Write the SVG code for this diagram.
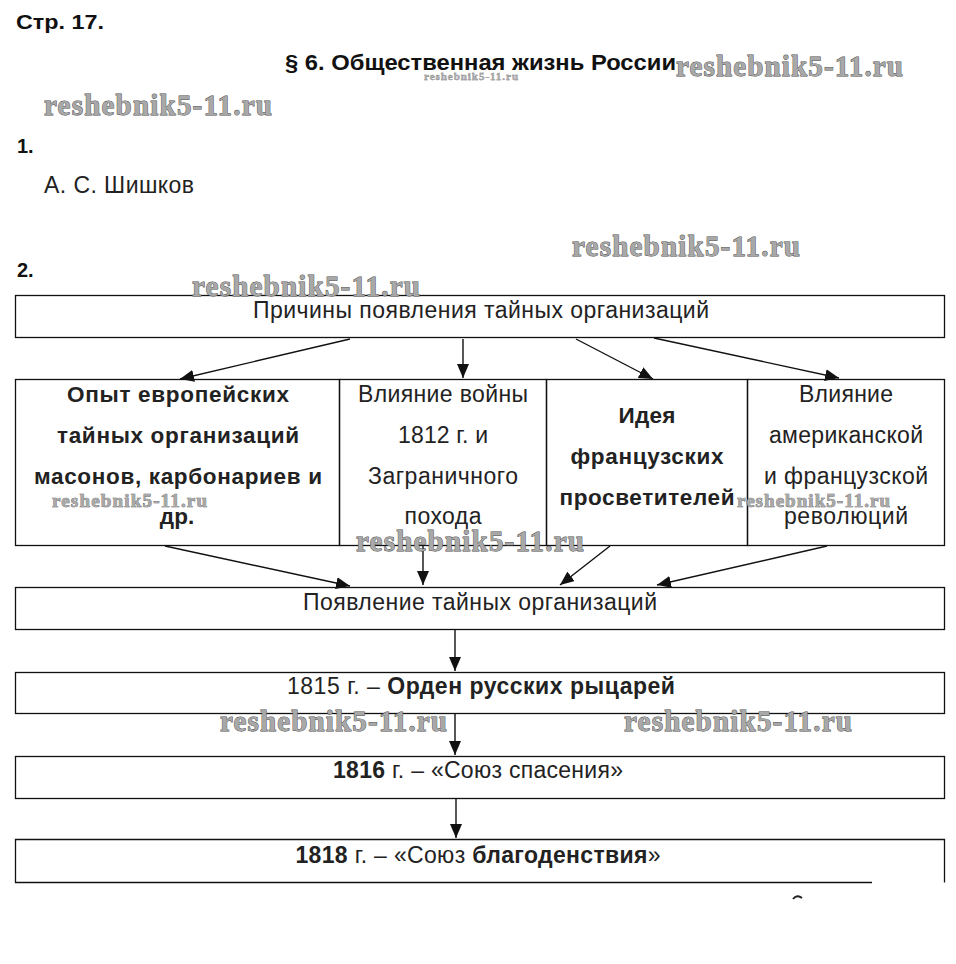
<svg xmlns="http://www.w3.org/2000/svg" width="956" height="964" viewBox="0 0 956 964">
<defs>
<style>
.bg{fill:#fff}
.box{fill:none;stroke:#111;stroke-width:1.3}
.t{font-family:"Liberation Sans",Arial,sans-serif;fill:#222;font-size:23px}
.tb{font-family:"Liberation Sans",Arial,sans-serif;fill:#222;font-size:22.5px;font-weight:bold}
.b{font-weight:bold}
.h{font-family:"Liberation Sans",Arial,sans-serif;fill:#111;font-weight:bold}
.wm{font-family:"Liberation Serif","Times New Roman",serif;font-weight:bold;fill:#a8a8a8;stroke:#4a4a4a;stroke-width:0.9;paint-order:stroke}
.edge{stroke:#111;stroke-width:1.4;fill:none;marker-end:url(#ah)}
</style>
<marker id="ah" markerUnits="userSpaceOnUse" markerWidth="15" markerHeight="12" refX="14" refY="6" orient="auto">
<path d="M0,0 L14,6 L0,12 z" fill="#111"/>
</marker>
</defs>
<rect class="bg" x="0" y="0" width="956" height="964"/>

<g id="header">
<text class="h" x="16" y="29" font-size="21" textLength="88" lengthAdjust="spacingAndGlyphs">Стр. 17.</text>
<text class="h" x="285" y="70" font-size="22" textLength="391" lengthAdjust="spacingAndGlyphs">§ 6. Общественная жизнь России</text>
<text class="h" x="17" y="153" font-size="20">1.</text>
<text class="t" x="44" y="193" font-size="21" textLength="150">А. С. Шишков</text>
<text class="h" x="17" y="277" font-size="20">2.</text>
</g>

<g id="causes">
<rect class="box" x="15.5" y="295.5" width="929" height="42"/>
<text class="t" x="481" y="318" text-anchor="middle" textLength="456">Причины появления тайных организаций</text>
</g>

<g id="cause1">
<rect class="box" x="15.5" y="379.5" width="324" height="166"/>
<text class="tb" x="178" y="402" text-anchor="middle" textLength="222">Опыт европейских</text>
<text class="tb" x="178" y="443" text-anchor="middle" textLength="242">тайных организаций</text>
<text class="tb" x="178" y="484" text-anchor="middle" textLength="288">масонов, карбонариев и</text>
<text class="tb" x="177" y="524" text-anchor="middle">др.</text>
</g>

<g id="cause2">
<rect class="box" x="339.5" y="379.5" width="207" height="166"/>
<text class="t" x="443" y="402" text-anchor="middle" textLength="170">Влияние войны</text>
<text class="t" x="443" y="443" text-anchor="middle" textLength="90">1812 г. и</text>
<text class="t" x="443" y="484" text-anchor="middle" textLength="150">Заграничного</text>
<text class="t" x="443" y="524" text-anchor="middle" textLength="77">похода</text>
</g>

<g id="cause3">
<rect class="box" x="546.5" y="379.5" width="201" height="166"/>
<text class="tb" x="647" y="423" text-anchor="middle" textLength="57">Идея</text>
<text class="tb" x="647" y="464" text-anchor="middle" textLength="153">французских</text>
<text class="tb" x="647" y="505" text-anchor="middle" textLength="175">просветителей</text>
</g>

<g id="cause4">
<rect class="box" x="747.5" y="379.5" width="197" height="166"/>
<text class="t" x="846" y="402" text-anchor="middle" textLength="94">Влияние</text>
<text class="t" x="846" y="443" text-anchor="middle" textLength="154">американской</text>
<text class="t" x="846" y="484" text-anchor="middle" textLength="164">и французской</text>
<text class="t" x="846" y="524" text-anchor="middle" textLength="124">революций</text>
</g>

<g id="emergence">
<rect class="box" x="15.5" y="587.5" width="929" height="42"/>
<text class="t" x="480" y="610" text-anchor="middle" textLength="354">Появление тайных организаций</text>
</g>

<g id="order1815">
<rect class="box" x="15.5" y="672.5" width="929" height="41"/>
<text class="t" x="481" y="694" text-anchor="middle" font-size="23.5" textLength="388">1815 г. – <tspan class="b">Орден русских рыцарей</tspan></text>
</g>

<g id="union1816">
<rect class="box" x="15.5" y="756.5" width="929" height="42"/>
<text class="t" x="478" y="778" text-anchor="middle" font-size="23.5" textLength="290"><tspan class="b">1816</tspan> г. – «Союз спасения»</text>
</g>

<g id="union1818">
<path class="box" d="M872,882.5 L15.5,882.5 L15.5,839.5 L944.5,839.5 L944.5,882.5"/>
<text class="t" x="478" y="863" text-anchor="middle" font-size="23.5" textLength="365"><tspan class="b">1818</tspan> г. – «Союз <tspan class="b">благоденствия</tspan>»</text>
</g>

<g id="connectors">
<line class="edge" x1="350" y1="339" x2="180" y2="379"/>
<line class="edge" x1="463" y1="339" x2="463" y2="378"/>
<line class="edge" x1="576" y1="339" x2="653" y2="379"/>
<line class="edge" x1="654" y1="338" x2="839" y2="378"/>
<line class="edge" x1="165" y1="546" x2="350" y2="586"/>
<line class="edge" x1="423" y1="546" x2="423" y2="585"/>
<line class="edge" x1="610" y1="546" x2="560" y2="585"/>
<line class="edge" x1="827" y1="546" x2="657" y2="585"/>
<line class="edge" x1="455" y1="630" x2="455" y2="671"/>
<line class="edge" x1="455" y1="714" x2="455" y2="755"/>
<line class="edge" x1="456" y1="799" x2="456" y2="838"/>
</g>

<path d="M793,899 Q797,894 802,898" fill="none" stroke="#222" stroke-width="2"/>

<g id="watermarks">
<text class="wm" x="676" y="76" font-size="29" textLength="227">reshebnik5-11.ru</text>
<text class="wm" x="424" y="80" font-size="11" textLength="94" style="stroke-width:0.3">reshebnik5-11.ru</text>
<text class="wm" x="44" y="115" font-size="29" textLength="228">reshebnik5-11.ru</text>
<text class="wm" x="572" y="256" font-size="29" textLength="228">reshebnik5-11.ru</text>
<text class="wm" x="192" y="296" font-size="29" textLength="228">reshebnik5-11.ru</text>
<text class="wm" x="52" y="507" font-size="19" textLength="155" style="stroke-width:0.6">reshebnik5-11.ru</text>
<text class="wm" x="737" y="507" font-size="19" textLength="153" style="stroke-width:0.6">reshebnik5-11.ru</text>
<text class="wm" x="356" y="551" font-size="29" textLength="228">reshebnik5-11.ru</text>
<text class="wm" x="220" y="731" font-size="29" textLength="227">reshebnik5-11.ru</text>
<text class="wm" x="624" y="731" font-size="29" textLength="228">reshebnik5-11.ru</text>
</g>
</svg>
